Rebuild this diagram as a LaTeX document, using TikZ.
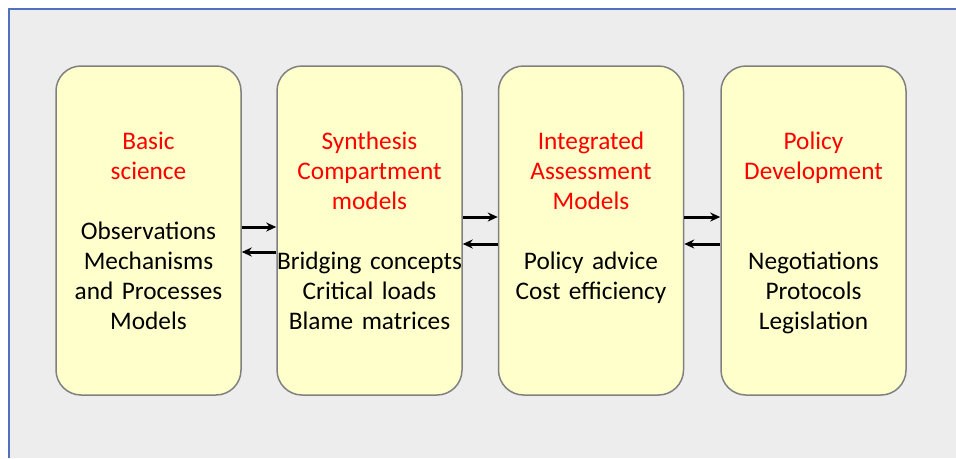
\documentclass[tikz,border=0pt]{standalone}
\usepackage{fontspec}
\setmainfont{Carlito}
\usepackage{tikz}
\usetikzlibrary{arrows.meta}
\definecolor{Backdrop}{RGB}{237,237,237}
\definecolor{FrameBlue}{RGB}{79,113,190}
\definecolor{BoxFill}{RGB}{255,255,204}
\definecolor{BoxLine}{RGB}{128,128,128}
\definecolor{TitleRed}{RGB}{255,0,0}

\tikzset{
    stage/.style={draw=BoxLine, fill=BoxFill, line width=1.5pt, rounded corners=25pt,
        minimum width=185pt, minimum height=329pt, inner sep=0pt},
    stagetext/.style={anchor=base, text width=190pt, align=center, inner sep=0pt,
        text=black, font=\fontsize{25.3pt}{30pt}\selectfont},
    link/.style={-{Stealth[length=10pt,width=9pt]}, line width=3pt, draw=black}
}

\begin{document}
\begin{tikzpicture}[x=1pt,y=-1pt]
    \useasboundingbox (0,0) rectangle (956,458);
    \fill[Backdrop] (8.5,8.5) rectangle (956,458);
    \draw[FrameBlue, line width=2pt] (8.5,458) -- (8.5,8.5) -- (956,8.5);

    \node[stage] (basic) at (148.5,230.5) {};
    \node[stage] (synthesis) at (369.5,230.5) {};
    \node[stage] (assessment) at (591,230.5) {};
    \node[stage] (policy) at (813.5,230.5) {};

    \node[stagetext] (basictext) at ([yshift=-84.5pt]basic.north)
        {{\color{TitleRed}Basic\\science}\\[30pt]Observations\\Mechanisms\\and Processes\\Models};
    \node[stagetext] (synthesistext) at ([yshift=-84.5pt]synthesis.north)
        {{\color{TitleRed}Synthesis\\Compartment\\models}\\[30pt]Bridging concepts\\Critical loads\\Blame matrices};
    \node[stagetext] (assessmenttext) at ([yshift=-84.5pt]assessment.north)
        {{\color{TitleRed}Integrated\\Assessment\\Models}\\[30pt]Policy advice\\Cost efficiency};
    \node[stagetext] (policytext) at ([yshift=-84.5pt]policy.north)
        {{\color{TitleRed}Policy\\Development}\\[60pt]Negotiations\\Protocols\\Legislation};

    \draw[link] ([yshift=3.5pt]basic.east) -- ([yshift=3.5pt]synthesis.west);
    \draw[link] ([yshift=-21.5pt]synthesis.west) -- ([yshift=-21.5pt]basic.east);
    \draw[link] ([yshift=13.5pt]synthesis.east) -- ([yshift=13.5pt]assessment.west);
    \draw[link] ([yshift=-13.5pt]assessment.west) -- ([yshift=-13.5pt]synthesis.east);
    \draw[link] ([yshift=13.5pt]assessment.east) -- ([yshift=13.5pt]policy.west);
    \draw[link] ([yshift=-13.5pt]policy.west) -- ([yshift=-13.5pt]assessment.east);

\end{tikzpicture}
\end{document}
